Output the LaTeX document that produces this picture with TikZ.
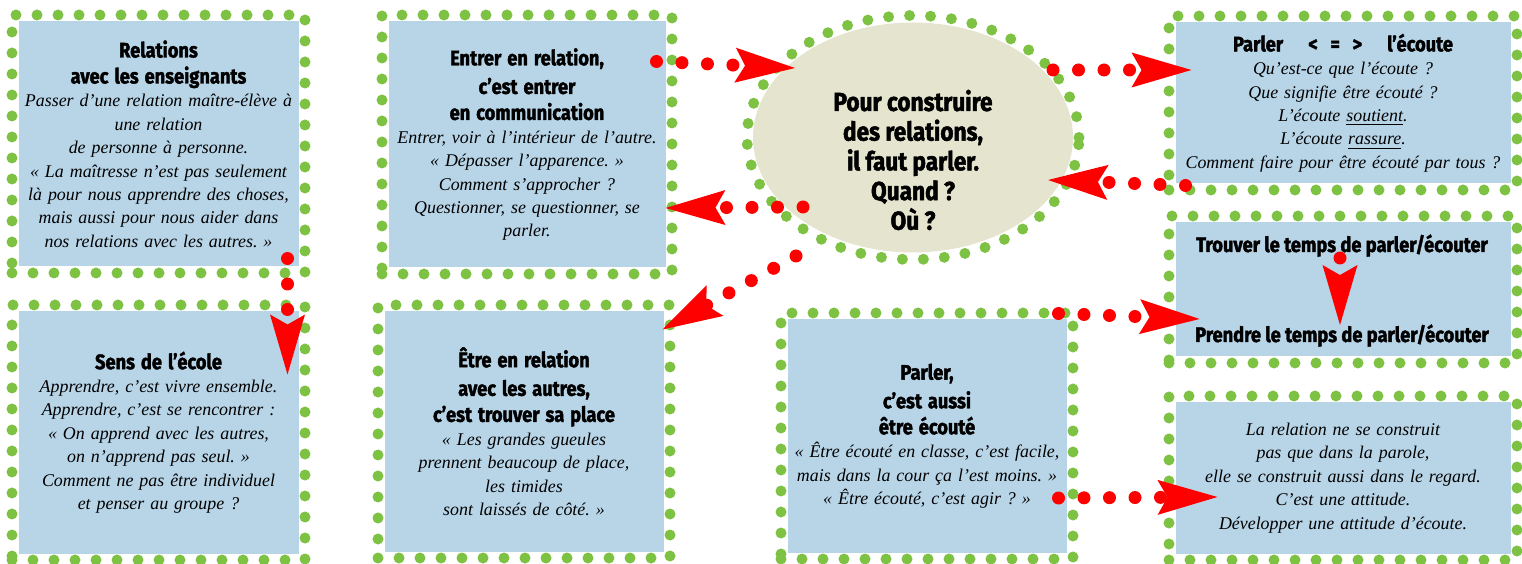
\documentclass[tikz,border=0pt]{standalone}
\usepackage{fontspec}
\setmainfont{Liberation Serif}
\newfontfamily\headfont{Fira Sans}[FakeStretch=0.87, BoldFeatures={FakeBold=1.8}]
\usetikzlibrary{arrows.meta,shapes.geometric}

\definecolor{dotgreen}{HTML}{7DC242}
\definecolor{cardblue}{HTML}{B8D5E8}
\definecolor{bubblebeige}{HTML}{E5E5CF}
\definecolor{linkred}{HTML}{FF0000}

\newcommand{\hd}{\fontsize{10.5}{13}\headfont\upshape\bfseries}
\newcommand{\cardfont}{\fontsize{8.95}{11.7}\selectfont\itshape\lineskiplimit=-20pt\relax}

\tikzset{
  dotted border/.style={draw=dotgreen, line width=5.5pt, line cap=round,
    dash pattern=on 0pt off 10.5pt},
  card/.style n args={2}{rectangle, dotted border, inner sep=0pt,
    minimum width=#1, text width=#1, minimum height=#2, align=center,
    font=\cardfont,
    path picture={\fill[cardblue]
      ([shift={(3.25pt,3.25pt)}]path picture bounding box.south west) rectangle
      ([shift={(-3.25pt,-3.25pt)}]path picture bounding box.north east);}},
  bubble/.style={ellipse, dotted border, inner sep=0pt,
    minimum width=166pt, minimum height=122pt,
    path picture={\fill[bubblebeige] (path picture bounding box.center)
      ellipse [x radius=80pt, y radius=57.5pt];}},
  link/.style={draw=linkred, line width=6.5pt, line cap=round,
    dash pattern=on 0pt off 12.75pt,
    -{Stealth[length=30pt, width=17.5pt, inset=5pt, line width=0pt]}}
}

\begin{document}
\begin{tikzpicture}[x=0.5pt, y=0.5pt]
  \useasboundingbox (0,0) rectangle (1522,563);

  \node[card={146.5pt}{129pt}] (prof) at (158.5,419)
    {{\hd Relations\\[1.3pt] avec les enseignants}\\
     Passer d’une relation maître-élève à\\ une relation\\
     de personne à personne.\\
     «~La maîtresse n’est pas seulement\\ là pour nous apprendre des choses,\\
     mais aussi pour nous aider dans\\ nos relations avec les autres.~»};
  \node[card={146.5pt}{127.5pt}] (ecole) at (158.5,130.5)
    {{\hd Sens de l’école}\\
     Apprendre, c’est vivre ensemble.\\ Apprendre, c’est se rencontrer :\\
     «~On apprend avec les autres,\\ on n’apprend pas seul.~»\\
     Comment ne pas être individuel\\ et penser au groupe ?};
  \node[card={145pt}{129.5pt}] (entrer) at (527,418.5)
    {{\hd Entrer en relation,\\[1.3pt] c’est entrer\\[1.3pt] en communication}\\
     Entrer, voir à l’intérieur de l’autre.\\ «~Dépasser l’apparence.~»\\
     Comment s’approcher ?\\ Questionner, se questionner, se\\ parler.};
  \node[card={146pt}{126.5pt}] (place) at (524,131.5)
    {{\hd Être en relation\\[1.3pt] avec les autres,\\[1.3pt] c’est trouver sa place}\\
     «~Les grandes gueules\\ prennent beaucoup de place,\\ les timides\\
     sont laissés de côté.~»};
  \node[card={146pt}{123pt}] (ecoute) at (927,127)
    {{\hd Parler,\\[1.3pt] c’est aussi\\[1.3pt] être écouté}\\
     «~Être écouté en classe, c’est facile,\\
     mais dans la cour ça l’est moins.~»\\ «~Être écouté, c’est agir ?~»};
  \node[card={174pt}{87pt}] (parler) at (1343,460)
    {{\hd Parler\hspace{1.2em}<\hspace{0.6em}=\hspace{0.6em}>\hspace{1.2em}l’écoute}\\
     Qu’est-ce que l’écoute ?\\ Que signifie être écouté ?\\
     L’écoute \underline{soutient}.\\ L’écoute \underline{rassure}.\\
     Comment faire pour être écouté par tous ?};
  \node[card={174pt}{73.5pt}] (temps) at (1343,273.5) {};
  \node[card={174pt}{82pt}] (regard) at (1343,85)
    {La relation ne se construit\\ pas que dans la parole,\\
     elle se construit aussi dans le regard.\\ C’est une attitude.\\
     Développer une attitude d’écoute.};
  \node[bubble] (parole) at (913,425.5) {};

  \node[font=\fontsize{13}{14.85}\headfont\bfseries, align=center] (paroleTxt) at (913,403)
    {Pour construire\\ des relations,\\ il faut parler.\\ Quand ?\\ Où ?};
  \node[font=\hd, anchor=base] (trouver) at (1342,311) {Trouver le temps de parler/écouter};
  \node[font=\hd, anchor=base] (prendre) at (1342,221) {Prendre le temps de parler/écouter};

  \begin{scope}[link]
    \draw ([shift={(-23,20)}]prof.south east) to ([shift={(-23,-75)}]ecole.north east);
    \draw ([shift={(-21,-52)}]entrer.north east) to ([shift={(-118,69.5)}]parole.center);
    \draw ([shift={(140,67.5)}]parole.center) to ([shift={(28,33)}]parler.west);
    \draw ([shift={(22,10)}]parler.south west) to ([shift={(135,-42.5)}]parole.center);
    \draw ([shift={(-110,-69.5)}]parole.center) to ([shift={(-12,-63.5)}]entrer.east);
    \draw ([shift={(-117,-118.5)}]parole.center) to ([shift={(-13,-30)}]place.north east);
    \draw ([shift={(-20,-6)}]ecoute.north east) to ([shift={(36,-29.5)}]temps.west);
    \draw ([shift={(-20,-62)}]ecoute.east) to ([shift={(54,-19)}]regard.west);
    \draw ([shift={(-2,-6)}]trouver.base) to ([shift={(-2,17)}]prendre.base);
  \end{scope}
\end{tikzpicture}
\end{document}
